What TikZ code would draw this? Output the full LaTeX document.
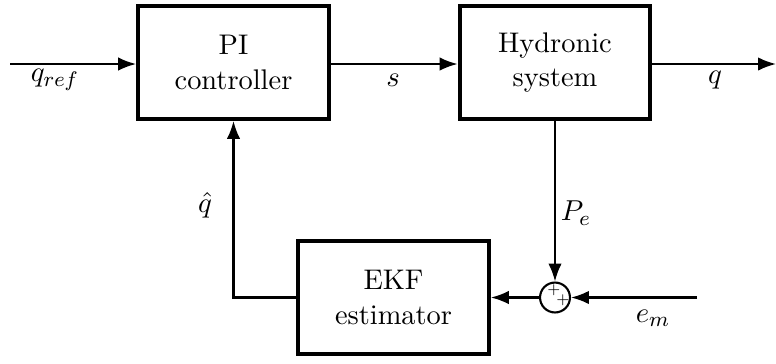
\documentclass[tikz,border=0pt]{standalone}
\usepackage{tikz}
\usetikzlibrary{arrows.meta,positioning,calc}
\tikzset{
  block/.style={draw, line width=1.5pt, align=center,
    minimum width=2.55cm, minimum height=1.51cm,
    font=\fontsize{10.8}{13}\selectfont},
  sumnode/.style={draw, circle, line width=0.8pt, minimum size=0.4cm, inner sep=0pt},
  sig/.style={draw, line width=0.8pt, -{Latex[length=2.4mm,width=1.8mm]}},
  lbl/.style={inner sep=1pt, font=\fontsize{10.8}{13}\selectfont},
  sgn/.style={font=\tiny, inner sep=0pt}
}
\begin{document}
\begin{tikzpicture}[x=0.01336cm, y=-0.01336cm]
    \useasboundingbox (0,0) rectangle (776,363);
    \node[block] (pi) at (233.5,62.5) {PI\\controller};
    \node[block] (plant) at (555,62.5) {Hydronic\\system};
    \node[block] (ekf) at (393.5,297.5) {EKF\\estimator};
    \node[sumnode] (sum) at (555,297.5) {};
    \node[sgn] (plusa) at (554,290) {$+$};
    \node[sgn] (plusb) at (563,300) {$+$};

    \coordinate (in) at (10,64);
    \coordinate (out) at (776,64);
    \coordinate (em) at (697,297.5);

    \draw[sig] (in) -- (in -| pi.west);
    \draw[sig] (in -| pi.east) -- (in -| plant.west);
    \draw[sig] (in -| plant.east) -- (out);
    \draw[sig] (plant.south) -- (sum.north);
    \draw[sig] (em) -- (sum.east);
    \draw[sig] (sum.west) -- (ekf.east);
    \draw[sig] (ekf.west) -| (pi.south);

    \node[lbl] (qref) at (55,80) {$q_{ref}$};
    \node[lbl] (sl) at (393,80) {$s$};
    \node[lbl] (ql) at (715,80) {$q$};
    \node[lbl] (pe) at (576,213) {$P_e$};
    \node[lbl] (qhat) at (205,205) {$\hat{q}$};
    \node[lbl] (eml) at (653,318) {$e_m$};
\end{tikzpicture}
\end{document}
